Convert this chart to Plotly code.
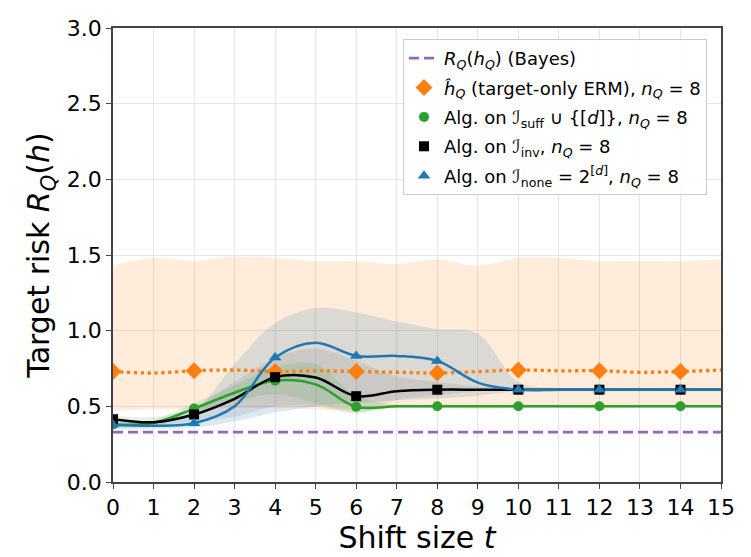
import plotly.graph_objects as go

# ---------------- data ----------------
t = list(range(16))
bayes = [0.33] * 16

erm = [0.73, 0.72, 0.735, 0.74, 0.73, 0.735, 0.73, 0.725, 0.72, 0.73, 0.74, 0.735, 0.735, 0.725, 0.73, 0.74]
erm_hi = [1.43, 1.48, 1.46, 1.49, 1.48, 1.46, 1.46, 1.44, 1.47, 1.43, 1.48, 1.48, 1.46, 1.46, 1.46, 1.47]
erm_lo = [0.47, 0.48, 0.48, 0.49, 0.49, 0.48, 0.48, 0.49, 0.49, 0.48, 0.49, 0.49, 0.48, 0.49, 0.49, 0.49]

suff = [0.38, 0.39, 0.485, 0.59, 0.67, 0.645, 0.497, 0.50, 0.50, 0.50, 0.50, 0.50, 0.50, 0.50, 0.50, 0.50]
suff_hi = [0.40, 0.41, 0.52, 0.64, 0.76, 0.78, 0.57, 0.51, 0.51, 0.51, 0.51, 0.51, 0.51, 0.51, 0.51, 0.51]
suff_lo = [0.36, 0.37, 0.45, 0.53, 0.58, 0.52, 0.46, 0.49, 0.49, 0.49, 0.49, 0.49, 0.49, 0.49, 0.49, 0.49]

inv = [0.415, 0.395, 0.446, 0.55, 0.693, 0.69, 0.567, 0.60, 0.61, 0.61, 0.61, 0.61, 0.61, 0.61, 0.61, 0.61]
inv_hi = [0.44, 0.43, 0.49, 0.66, 0.82, 0.88, 0.80, 0.70, 0.66, 0.63, 0.62, 0.62, 0.62, 0.62, 0.62, 0.62]
inv_lo = [0.39, 0.37, 0.40, 0.43, 0.50, 0.50, 0.45, 0.54, 0.57, 0.60, 0.60, 0.60, 0.60, 0.60, 0.60, 0.60]

none = [0.378, 0.372, 0.388, 0.50, 0.822, 0.92, 0.833, 0.833, 0.80, 0.657, 0.61, 0.61, 0.61, 0.61, 0.61, 0.61]
none_hi = [0.40, 0.40, 0.47, 0.78, 1.05, 1.15, 1.12, 1.06, 1.01, 0.98, 0.66, 0.62, 0.62, 0.62, 0.62, 0.62]
none_lo = [0.35, 0.35, 0.36, 0.40, 0.46, 0.50, 0.52, 0.54, 0.55, 0.57, 0.60, 0.60, 0.60, 0.60, 0.60, 0.60]

x_ticks = list(range(16))
y_ticks = [0.0, 0.5, 1.0, 1.5, 2.0, 2.5, 3.0]

ORANGE = "#ff7f0e"
GREEN = "#2ca02c"
BLUE = "#1f77b4"
BLACK = "#000000"
PURPLE = "#9467bd"

FONT = "DejaVu Sans, Liberation Sans, sans-serif"

fig = go.Figure()


def band(lo, hi, color):
    fig.add_trace(go.Scatter(x=t, y=lo, mode="lines", line=dict(width=0, shape="spline"),
                             showlegend=False, hoverinfo="skip"))
    fig.add_trace(go.Scatter(x=t, y=hi, mode="lines", line=dict(width=0, shape="spline"),
                             fill="tonexty", fillcolor=color, showlegend=False, hoverinfo="skip"))


band(erm_lo, erm_hi, "rgba(255,127,14,0.15)")
band(none_lo, none_hi, "rgba(31,119,180,0.16)")
band(inv_lo, inv_hi, "rgba(0,0,0,0.07)")
band(suff_lo, suff_hi, "rgba(44,160,44,0.14)")

# Bayes line (legend entry)
fig.add_trace(go.Scatter(x=t, y=bayes, mode="lines", legendgroup="a",
                         line=dict(color=PURPLE, width=2.7, dash="10px,5px"),
                         name="<i>R</i><sub><i>Q</i></sub>(<i>h</i><sub><i>Q</i></sub>) (Bayes)"))

# curves
fig.add_trace(go.Scatter(x=t, y=erm, mode="lines",
                         line=dict(color=ORANGE, width=3.3, dash="3.3px,3.6px", shape="spline"),
                         showlegend=False))
fig.add_trace(go.Scatter(x=t, y=suff, mode="lines", line=dict(color=GREEN, width=2.5, shape="spline"),
                         showlegend=False))
fig.add_trace(go.Scatter(x=t, y=inv, mode="lines", line=dict(color=BLACK, width=2.5, shape="spline"),
                         showlegend=False))
fig.add_trace(go.Scatter(x=t, y=none, mode="lines", line=dict(color=BLUE, width=2.5, shape="spline"),
                         showlegend=False))

# markers (legend entries)
fig.add_trace(go.Scatter(x=t[::2], y=erm[::2], mode="markers", legendgroup="b",
                         marker=dict(symbol="diamond", size=13, color=ORANGE),
                         name="<i>ĥ</i><sub><i>Q</i></sub> (target-only ERM), <i>n</i><sub><i>Q</i></sub> = 8"))
fig.add_trace(go.Scatter(x=t[::2], y=suff[::2], mode="markers", legendgroup="c",
                         marker=dict(symbol="circle", size=10, color=GREEN),
                         name="Alg. on <i>ℐ</i><sub>suff</sub> ∪ {[<i>d</i>]}, <i>n</i><sub><i>Q</i></sub> = 8"))
fig.add_trace(go.Scatter(x=t[::2], y=inv[::2], mode="markers", legendgroup="d",
                         marker=dict(symbol="square", size=10, color=BLACK),
                         name="Alg. on <i>ℐ</i><sub>inv</sub>, <i>n</i><sub><i>Q</i></sub> = 8"))
fig.add_trace(go.Scatter(x=t[::2], y=none[::2], mode="markers", legendgroup="e",
                         marker=dict(symbol="triangle-up", size=11, color=BLUE),
                         name="Alg. on <i>ℐ</i><sub>none</sub> = 2<sup>[<i>d</i>]</sup>, <i>n</i><sub><i>Q</i></sub> = 8"))

fig.update_layout(
    width=751, height=557,
    margin=dict(l=113, r=30, t=28, b=64),
    plot_bgcolor="white", paper_bgcolor="white",
    font=dict(family=FONT, color="black"),
    showlegend=True,
    legend=dict(x=0.477, y=0.976, xanchor="left", yanchor="top",
                bgcolor="rgba(255,255,255,0.85)", bordercolor="#cccccc", borderwidth=1,
                font=dict(size=18, family=FONT), traceorder="grouped", tracegroupgap=3,
                itemwidth=30),
)
fig.update_xaxes(range=[0, 15], tickvals=x_ticks, ticktext=[str(v) for v in x_ticks],
                 showgrid=True, gridcolor="#e6e6e6", gridwidth=1,
                 showline=True, linecolor="#444444", linewidth=1.5, mirror=True,
                 ticks="outside", ticklen=5, tickcolor="#444444",
                 tickfont=dict(size=22), zeroline=False,
                 title=dict(text="Shift size <i>t</i>", font=dict(size=30), standoff=4))
fig.update_yaxes(range=[0, 3], tickvals=y_ticks, ticktext=[f"{v:.1f}" for v in y_ticks],
                 showgrid=True, gridcolor="#e6e6e6", gridwidth=1,
                 showline=True, linecolor="#444444", linewidth=1.5, mirror=True,
                 ticks="outside", ticklen=5, tickcolor="#444444",
                 tickfont=dict(size=22), zeroline=False,
                 title=dict(text="Target risk <i>R</i><sub><i>Q</i></sub>(<i>h</i>)", font=dict(size=30), standoff=8))

fig.write_html("out.html")
